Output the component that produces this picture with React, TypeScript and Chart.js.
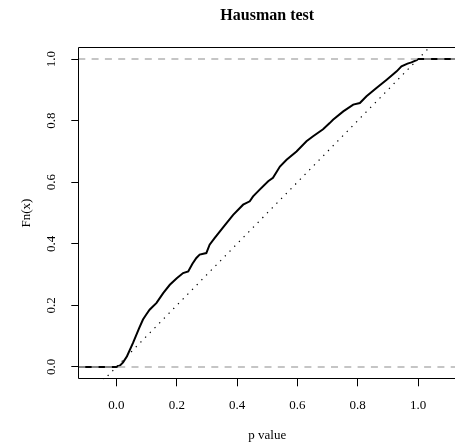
import React, { useEffect, useRef } from "react";
import { Chart, registerables } from "chart.js";
Chart.register(...registerables);

// ECDF of Hausman-test p values
const pValues = [
  0.0, 0.012, 0.022, 0.035, 0.055, 0.075, 0.088, 0.1, 0.11, 0.133, 0.155, 0.177,
  0.2, 0.221, 0.238, 0.252, 0.265, 0.276, 0.298, 0.309, 0.326, 0.355, 0.387,
  0.42, 0.442, 0.453, 0.475, 0.503, 0.519, 0.542, 0.564, 0.597, 0.63, 0.652,
  0.685, 0.707, 0.718, 0.752, 0.785, 0.807, 0.829, 0.862, 0.896, 0.929, 0.945,
  0.965, 0.978, 0.995, 1.0,
];
const ecdfValues = [
  0.0, 0.005, 0.015, 0.035, 0.078, 0.125, 0.154, 0.172, 0.186, 0.208, 0.24, 0.267,
  0.288, 0.305, 0.31, 0.335, 0.354, 0.365, 0.37, 0.397, 0.419, 0.455, 0.494,
  0.527, 0.538, 0.554, 0.576, 0.603, 0.614, 0.651, 0.673, 0.7, 0.733, 0.749,
  0.772, 0.792, 0.803, 0.83, 0.852, 0.857, 0.879, 0.906, 0.933, 0.96, 0.976,
  0.985, 0.989, 0.996, 1.0,
];
const xTicks = [0, 0.2, 0.4, 0.6, 0.8, 1.0];
const xTickLabels = ["0.0", "0.2", "0.4", "0.6", "0.8", "1.0"];
const yTicks = [0, 0.2, 0.4, 0.6, 0.8, 1.0];
const yTickLabels = ["0.0", "0.2", "0.4", "0.6", "0.8", "1.0"];
const xLimits = [-0.1264, 1.1264];
const yLimits = [-0.04, 1.04];
const refLevels = [0, 1];
const diagonalEnds = [-0.2, 1.2];

const FONT = "'Liberation Serif', 'Times New Roman', serif";

const boxPlugin = {
  id: "rbox",
  afterDatasetsDraw(chart: any) {
    const { ctx, chartArea } = chart;
    const l = Math.round(chartArea.left) + 0.5;
    const t = Math.round(chartArea.top) + 0.5;
    const b = Math.round(chartArea.bottom) - 0.5;
    const r = Math.round(chartArea.right) - 0.5;
    ctx.save();
    ctx.strokeStyle = "#000";
    ctx.lineWidth = 1;
    ctx.beginPath();
    ctx.moveTo(r, t);
    ctx.lineTo(l, t);
    ctx.lineTo(l, b);
    ctx.lineTo(r, b);
    ctx.lineTo(r, t);
    ctx.stroke();
    ctx.restore();
  },
};

export default function App() {
  const ref = useRef<HTMLCanvasElement>(null);
  useEffect(() => {
    if (!ref.current) return;
    const ecdfPts = [
      { x: xLimits[0] - 0.05, y: 0 },
      ...pValues.map((p, i) => ({ x: p, y: ecdfValues[i] })),
      { x: xLimits[1] + 0.05, y: 1 },
    ];
    const refSets = refLevels.map((lv) => ({
      label: "ref" + lv,
      data: [
        { x: xLimits[0], y: lv },
        { x: xLimits[1], y: lv },
      ],
      showLine: true,
      borderColor: "#b3b3b3",
      borderWidth: 1.3,
      borderDash: [7, 6.3],
      pointRadius: 0,
      order: 2,
    }));
    const chart = new Chart(ref.current, {
      type: "scatter",
      data: {
        datasets: [
          {
            label: "Fn(x)",
            data: ecdfPts,
            showLine: true,
            borderColor: "#000",
            borderWidth: 2,
            pointRadius: 0,
            tension: 0,
            order: 3,
          } as any,
          ...refSets,
          {
            label: "diag",
            data: diagonalEnds.map((v) => ({ x: v, y: v })),
            showLine: true,
            borderColor: "#000",
            borderWidth: 1.2,
            borderDash: [1.3, 5.4],
            pointRadius: 0,
            order: 1,
          },
        ],
      },
      options: {
        responsive: false,
        animation: false,
        devicePixelRatio: 1,
        layout: { padding: { left: 0, right: 3.8, top: 0, bottom: 0 } },
        plugins: {
          legend: { display: false },
          tooltip: { enabled: false },
          title: {
            display: true,
            text: "Hausman test",
            fullSize: false,
            color: "#000",
            font: { family: FONT, size: 16, weight: "bold", lineHeight: 1.2 },
            padding: { top: 6.4, bottom: 21.1 },
          },
        },
        scales: {
          x: {
            type: "linear",
            min: xLimits[0],
            max: xLimits[1],
            afterBuildTicks: (s: any) => {
              s.ticks = xTicks.map((v) => ({ value: v }));
            },
            afterFit: (s: any) => {
              s.height = 66.7;
            },
            grid: {
              drawOnChartArea: false,
              drawTicks: true,
              tickLength: 7,
              tickColor: "#000",
              tickWidth: 1,
            },
            border: { display: false },
            ticks: {
              color: "#000",
              font: { family: FONT, size: 13 },
              padding: 11,
              maxRotation: 0,
              autoSkip: false,
              callback: (_v: any, i: number) => xTickLabels[i],
            },
            title: {
              display: true,
              text: "p value",
              color: "#000",
              font: { family: FONT, size: 13, lineHeight: 1.2 },
              padding: { top: 0, bottom: 2.2 },
            },
          },
          y: {
            type: "linear",
            min: yLimits[0],
            max: yLimits[1],
            afterBuildTicks: (s: any) => {
              s.ticks = yTicks.map((v) => ({ value: v }));
            },
            afterFit: (s: any) => {
              s.width = 78.3;
            },
            grid: {
              drawOnChartArea: false,
              drawTicks: true,
              tickLength: 7,
              tickColor: "#000",
              tickWidth: 1,
            },
            border: { display: false },
            ticks: {
              color: "#000",
              font: { family: FONT, size: 13 },
              padding: 11.4,
              minRotation: 90,
              maxRotation: 90,
              crossAlign: "center",
              autoSkip: false,
              callback: (_v: any, i: number) => yTickLabels[i],
            },
            title: {
              display: true,
              text: "Fn(x)",
              color: "#000",
              font: { family: FONT, size: 13, lineHeight: 1.2 },
              padding: { top: 19.2, bottom: 0 },
            },
          },
        },
      } as any,
      plugins: [boxPlugin],
    });
    return () => chart.destroy();
  }, []);
  return (
    <div
      style={{
        position: "fixed",
        left: 0,
        top: 0,
        width: 455,
        height: 446,
        overflow: "hidden",
        background: "#fff",
      }}
    >
      <canvas ref={ref} width={460} height={446} style={{ display: "block" }} />
    </div>
  );
}
